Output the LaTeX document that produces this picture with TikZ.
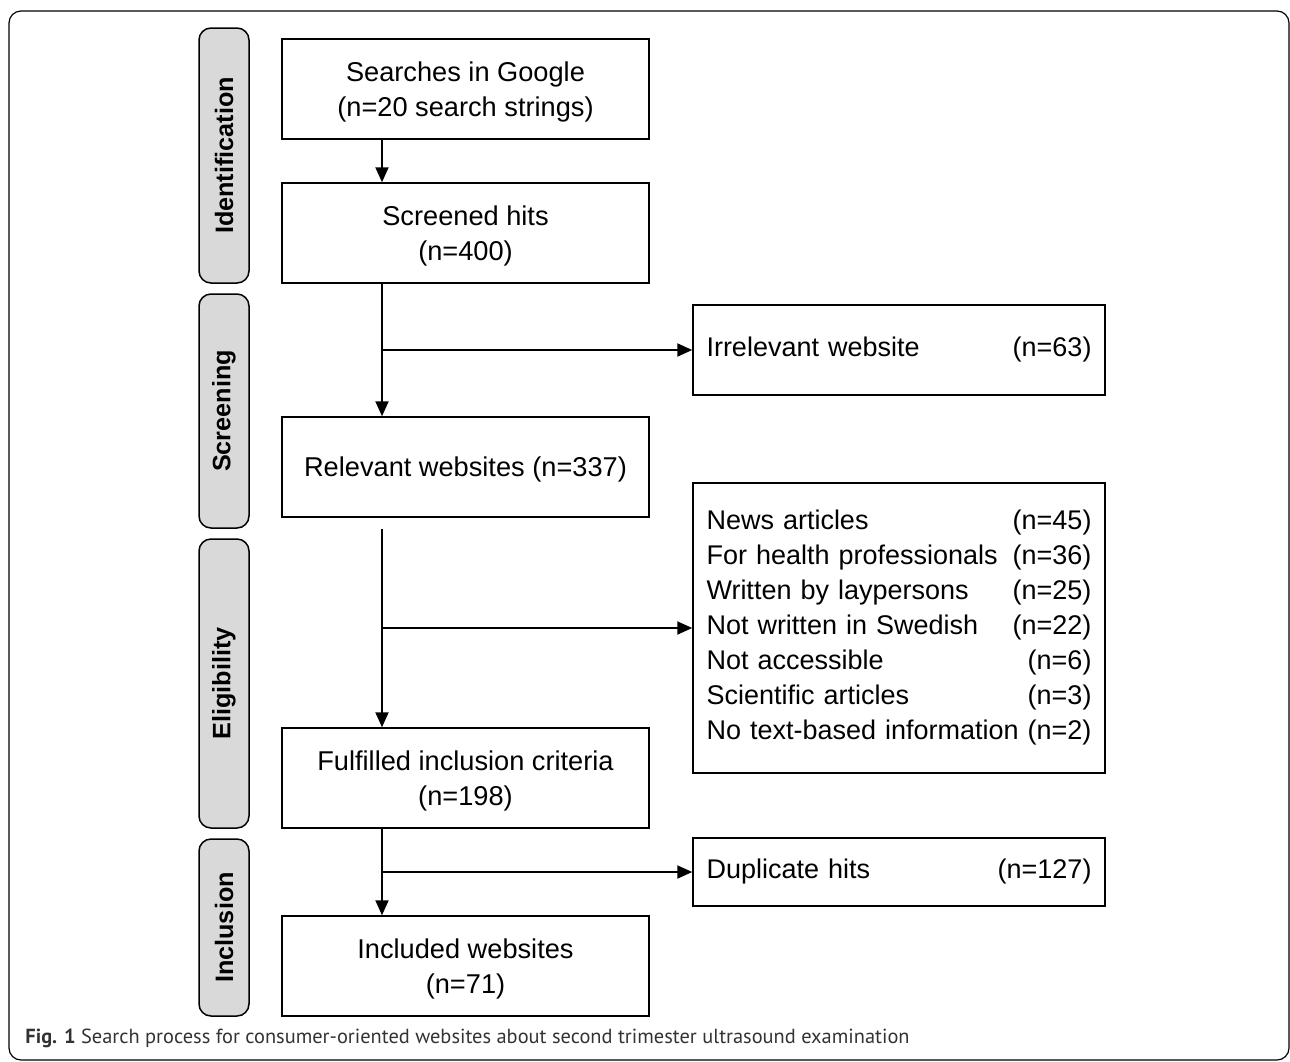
\documentclass[tikz,border=0pt]{standalone}
\usepackage{fontspec}
\setmainfont{Liberation Sans}
\newfontfamily\capfont{PT Sans}
\usetikzlibrary{arrows.meta}

\begin{document}
\begin{tikzpicture}[
    x=0.5pt, y=-0.5pt,
    box/.style={draw, line width=0.75pt, rectangle, minimum width=183.5pt, minimum height=50pt, inner sep=0pt, text depth=0pt, align=center, font=\fontsize{13.6}{17.5}\selectfont},
    phase/.style={draw, line width=0.75pt, rounded corners=6pt, fill=gray!30, rotate=90, minimum height=25pt, inner sep=0pt, font=\fontsize{12.6}{15}\selectfont\bfseries},
    excl/.style={draw, line width=0.75pt, rectangle, text width=192.5pt, inner xsep=6.75pt, inner ysep=0pt, align=left, font=\fontsize{13.5}{17.5}\selectfont},
    arrow/.style={line width=1pt, -{Triangle[length=7.5pt, width=6.5pt]}}
]
    \useasboundingbox (0,0) rectangle (1290,1061);
    \clip (0,0) rectangle (1290,1061);

    % Outer frame
    \draw[line width=0.6pt, rounded corners=6pt] (9,11) rectangle (1289,1060);

    % Phase labels (left)
    \node (ident) [phase, minimum width=127.5pt] at (224,155.5) {Identification};
    \node (screen) [phase, minimum width=117pt] at (224,411) {Screening};
    \node (elig) [phase, minimum width=144.5pt] at (224,683.5) {Eligibility};
    \node (incl) [phase, minimum width=88.5pt] at (224,927.5) {Inclusion};

    % Main column
    \node (search) [box] at (465.5,89) {Searches in Google\\(n=20 search strings)};
    \node (screened) [box] at (465.5,233) {Screened hits\\(n=400)};
    \node (relevant) [box] at (465.5,467) {Relevant websites (n=337)};
    \node (fulfilled) [box] at (465.5,778) {Fulfilled inclusion criteria\\(n=198)};
    \node (included) [box] at (465.5,966) {Included websites\\(n=71)};

    % Excluded records (right)
    \node (irrelevant) [excl, minimum height=45pt] at (899,350) {Irrelevant website \hfill(n=63)};
    \node (excluded) [excl, minimum height=145pt] at (899,628) {News articles \hfill(n=45)\\
        For health professionals \hfill(n=36)\\
        Written by laypersons \hfill(n=25)\\
        Not written in Swedish \hfill(n=22)\\
        Not accessible \hfill(n=6)\\
        Scientific articles \hfill(n=3)\\
        No text-based information \hfill(n=2)};
    \node (duplicate) [excl, minimum height=34pt] at (899,872) {Duplicate hits \hfill(n=127)};

    % Connections
    \coordinate (spine) at (382,0);
    \path (relevant.south -| spine) ++(0,11) coordinate (eligtop);
    \draw [arrow] (search.south -| spine) -- (screened.north -| spine);
    \draw [arrow] (screened.south -| spine) -- (relevant.north -| spine);
    \draw [arrow] (spine |- irrelevant.west) -- (irrelevant.west);
    \draw [arrow] (eligtop) -- (fulfilled.north -| spine);
    \draw [arrow] (spine |- excluded.west) -- (excluded.west);
    \draw [arrow] (fulfilled.south -| spine) -- (included.north -| spine);
    \draw [arrow] (spine |- duplicate.west) -- (duplicate.west);

    % Caption
    \node (caption) [anchor=base west, inner sep=0pt, text=black!80, font=\capfont\fontsize{10.2}{12}\selectfont] at (25,1043) {\textbf{Fig. 1} Search process for consumer-oriented websites about second trimester ultrasound examination};
\end{tikzpicture}
\end{document}
